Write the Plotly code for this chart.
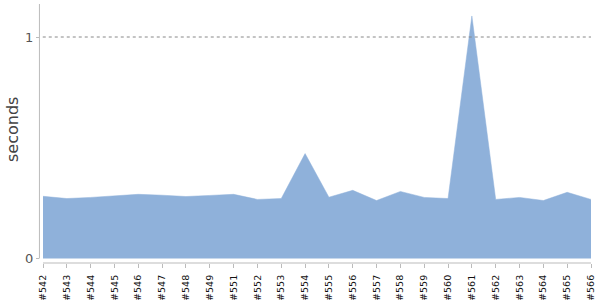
import plotly.graph_objects as go

builds = ["#542", "#543", "#544", "#545", "#546", "#547", "#548", "#549", "#551", "#552",
          "#553", "#554", "#555", "#556", "#557", "#558", "#559", "#560", "#561", "#562",
          "#563", "#564", "#565", "#566"]
seconds = [0.281, 0.271, 0.276, 0.282, 0.290, 0.286, 0.280, 0.285, 0.290, 0.267,
           0.271, 0.474, 0.277, 0.308, 0.262, 0.303, 0.276, 0.271, 1.095, 0.267,
           0.276, 0.262, 0.299, 0.267]

fig = go.Figure()
fig.add_trace(go.Scatter(
    x=builds, y=seconds, mode="lines", fill="tozeroy",
    fillcolor="#8FB1DA", line=dict(color="#8FB1DA", width=0.5),
    hoverinfo="x+y",
))
# dotted reference line at 1 second
fig.add_shape(type="line", xref="paper", yref="y", x0=0.005, x1=1, y0=1, y1=1,
              line=dict(color="#888888", width=1, dash="dot"), layer="above")
# y axis line (ends at 0)
fig.add_shape(type="line", xref="paper", yref="paper", x0=-0.001, x1=-0.001, y0=1, y1=0.0175,
              line=dict(color="#bbbbbb", width=1), layer="above")
# x axis line (starts at the first category)
fig.add_shape(type="line", xref="x", yref="paper", x0=0, x1=23, y0=0, y1=0,
              line=dict(color="#bbbbbb", width=1), layer="above")
fig.add_annotation(text="seconds", xref="paper", yref="paper", x=(12 - 40) / 551, y=0.5135,
                   xanchor="center", yanchor="middle", textangle=-90, showarrow=False,
                   font=dict(size=16, color="#444444"))
fig.update_layout(
    width=600, height=300,
    margin=dict(l=40, r=9, t=4, b=37, autoexpand=False),
    plot_bgcolor="white", paper_bgcolor="white",
    showlegend=False,
    font=dict(family="DejaVu Sans", color="#444444"),
    xaxis=dict(
        type="category", range=[-0.126, 23], showgrid=False, automargin=False,
        showline=False,
        ticks="outside", ticklen=4, tickcolor="#bbbbbb", ticklabelstandoff=3,
        tickangle=-90, tickfont=dict(size=9.5, color="#111111"),
        zeroline=False,
    ),
    yaxis=dict(
        range=[-0.02, 1.149], tickvals=[0, 1], ticktext=["0", "1"], automargin=False,
        showgrid=False, zeroline=False, showline=False,
        ticks="outside", ticklen=3, tickcolor="#bbbbbb",
        tickfont=dict(size=13, color="#555555"),
    ),
)
fig.write_html("out.html")
